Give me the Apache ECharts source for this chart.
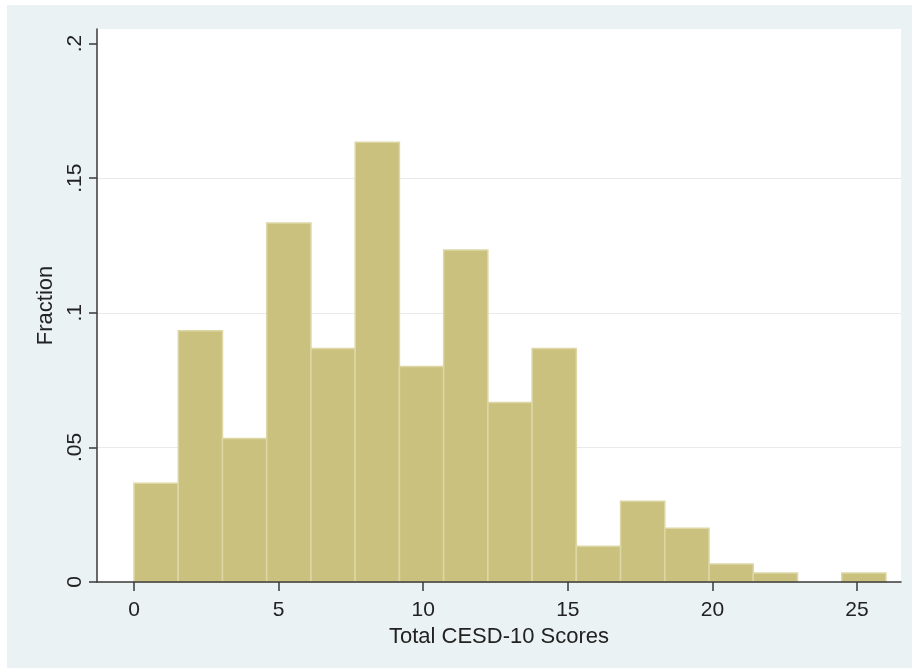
<!DOCTYPE html>
<html>
<head>
<meta charset="utf-8">
<script src="https://cdn.jsdelivr.net/npm/echarts@6/dist/echarts.min.js"></script>
<style>
  html, body { margin: 0; padding: 0; background: #ffffff; }
  #chart { width: 912px; height: 670px; }
</style>
</head>
<body>
<div id="chart"></div>
<script>
// Histogram of total CESD-10 scores: 17 equal-width bins spanning 0 to 26
const binStart = 0;
const binWidth = 26 / 17;
const fractions = [0.0367, 0.0933, 0.0533, 0.1333, 0.0867, 0.1633, 0.0800, 0.1233,
                   0.0667, 0.0867, 0.0133, 0.0300, 0.0200, 0.0067, 0.0033, 0, 0.0033];
const xTickValues = [0, 5, 10, 15, 20, 25];
const yTickValues = [0, 0.05, 0.1, 0.15, 0.2];
const yTickLabels = ['0', '.05', '.1', '.15', '.2'];
const xTitle = 'Total CESD-10 Scores';
const yTitle = 'Fraction';

// [left edge, right edge, fraction] per bin
const bins = fractions.map((f, i) => [binStart + i * binWidth, binStart + (i + 1) * binWidth, f]);

const FONT = "'Liberation Sans', Arial, sans-serif";
const INK = '#222222';
const AXIS = '#3a3a3a';

const chart = echarts.init(document.getElementById('chart'), null, { renderer: 'canvas' });

chart.setOption({
  animation: false,
  backgroundColor: '#ffffff',
  graphic: [{
    type: 'rect',
    z: -100,
    silent: true,
    shape: { x: 7, y: 5, width: 905, height: 663 },
    style: { fill: '#EAF2F3' }
  }],
  grid: {
    left: 97, right: 11, top: 29, bottom: 88,
    show: true,
    backgroundColor: '#ffffff',
    borderWidth: 0
  },
  xAxis: {
    type: 'value',
    min: -1.28,
    max: 26.52,
    z: 5,
    name: xTitle,
    nameLocation: 'middle',
    nameGap: 40,
    nameTextStyle: { fontFamily: FONT, fontSize: 22, color: INK },
    axisLine: { show: true, onZero: false, lineStyle: { color: AXIS, width: 1.5 } },
    axisTick: { show: true, length: 9, customValues: xTickValues, lineStyle: { color: AXIS, width: 1.5 } },
    axisLabel: {
      customValues: xTickValues,
      margin: 18,
      fontFamily: FONT, fontSize: 21, color: INK
    },
    splitLine: { show: false }
  },
  yAxis: {
    type: 'value',
    min: 0,
    max: 0.2054,
    z: 5,
    name: yTitle,
    nameLocation: 'middle',
    nameGap: 40,
    nameTextStyle: { fontFamily: FONT, fontSize: 22, color: INK },
    axisLine: { show: true, onZero: false, lineStyle: { color: AXIS, width: 1.5 } },
    axisTick: { show: true, length: 8, customValues: yTickValues, lineStyle: { color: AXIS, width: 1.5 } },
    axisLabel: {
      customValues: yTickValues,
      rotate: 90,
      align: 'center',
      verticalAlign: 'bottom',
      margin: 11,
      fontFamily: FONT, fontSize: 21, color: INK,
      formatter: v => {
        const k = yTickValues.findIndex(t => Math.abs(t - v) < 1e-9);
        return k >= 0 ? yTickLabels[k] : '';
      }
    },
    splitLine: { show: false }
  },
  series: [{
    type: 'custom',
    data: bins,
    encode: { x: [0, 1], y: 2 },
    z: 2,
    renderItem: (params, api) => {
      const h = api.value(2);
      if (!h) return null;
      const top = api.coord([api.value(0), h]);
      const base = api.coord([api.value(1), 0]);
      return {
        type: 'rect',
        shape: { x: top[0], y: top[1], width: base[0] - top[0], height: base[1] - top[1] },
        style: { fill: '#CAC17E', stroke: '#DDD7A6', lineWidth: 1.5 }
      };
    },
    markLine: {
      silent: true,
      symbol: 'none',
      label: { show: false },
      lineStyle: { color: '#EAEAEA', width: 1.2, type: 'solid' },
      z: 1,
      data: yTickValues.filter(v => v > 0 && v < 0.2).map(v => ({ yAxis: v }))
    }
  }]
});
</script>
</body>
</html>
